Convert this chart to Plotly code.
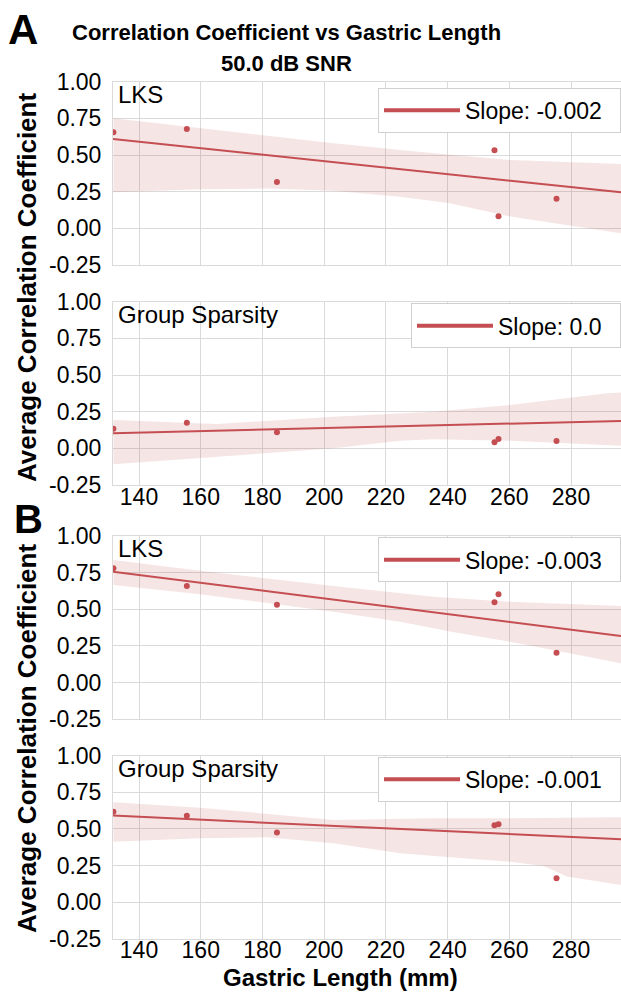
import plotly.graph_objects as go

W, H = 621, 993

# ---------------- data ----------------
gastric_length = [131.7, 155.5, 184.7, 255.2, 256.5, 275.3]
x_range = [131.57, 296.2]
x_ticks = [140, 160, 180, 200, 220, 240, 260, 280]
y_ticks = [-0.25, 0.0, 0.25, 0.5, 0.75, 1.0]
y_tick_text = ["-0.25", "0.00", "0.25", "0.50", "0.75", "1.00"]

panel_names = ["LKS", "Group Sparsity", "LKS", "Group Sparsity"]
slope_labels = ["Slope: -0.002", "Slope: 0.0", "Slope: -0.003", "Slope: -0.001"]

corr_A_lks = [0.655, 0.677, 0.316, 0.532, 0.082, 0.202]
corr_A_gs = [0.134, 0.175, 0.109, 0.041, 0.064, 0.050]
corr_B_lks = [0.780, 0.659, 0.532, 0.548, 0.602, 0.204]
corr_B_gs = [0.617, 0.589, 0.475, 0.525, 0.531, 0.163]

fit_A_lks = [0.609, 0.246]
fit_A_gs = [0.103, 0.187]
fit_B_lks = [0.757, 0.318]
fit_B_gs = [0.590, 0.429]

ci_up_x_A_lks = [131.7, 159.8, 203.0, 235.4, 260.3, 296.2]
ci_up_A_lks = [0.750, 0.682, 0.580, 0.512, 0.466, 0.439]
ci_lo_x_A_lks = [131.7, 159.8, 181.4, 203.0, 224.6, 240.8, 260.3, 296.2]
ci_lo_A_lks = [0.246, 0.266, 0.271, 0.257, 0.216, 0.171, 0.080, -0.034]

ci_up_x_A_gs = [131.7, 165.2, 203.0, 235.4, 260.3, 285.2, 291.7, 296.2]
ci_up_A_gs = [0.193, 0.166, 0.216, 0.250, 0.296, 0.357, 0.375, 0.380]
ci_lo_x_A_gs = [131.7, 159.8, 203.0, 224.6, 235.4, 260.3, 278.7, 296.2]
ci_lo_A_gs = [-0.109, -0.068, 0.0, 0.052, 0.062, 0.052, 0.034, 0.018]

ci_up_x_B_lks = [131.7, 159.8, 203.0, 235.4, 260.3, 296.2]
ci_up_B_lks = [0.836, 0.763, 0.659, 0.586, 0.552, 0.523]
ci_lo_x_B_lks = [131.7, 159.8, 203.0, 224.6, 240.8, 260.3, 296.2]
ci_lo_B_lks = [0.666, 0.602, 0.484, 0.416, 0.348, 0.279, 0.132]

ci_up_x_B_gs = [131.7, 159.8, 203.0, 235.4, 260.3, 296.2]
ci_up_B_gs = [0.681, 0.644, 0.560, 0.572, 0.572, 0.579]
ci_lo_x_B_gs = [131.7, 159.8, 181.4, 203.0, 224.6, 240.8, 260.3, 271.1, 278.7, 296.2]
ci_lo_B_gs = [0.412, 0.435, 0.442, 0.401, 0.333, 0.306, 0.276, 0.247, 0.174, 0.117]

# ---------------- style ----------------
RED = "#C44E52"
BAND = "rgba(196,78,82,0.15)"
GRID = "#dadada"
FONT = "Liberation Sans, Arial, sans-serif"


def px_x(p):
    return p / W


def px_y(p):
    return 1 - p / H


panels = [
    dict(vals=corr_A_lks, fit=fit_A_lks, ux=ci_up_x_A_lks, uy=ci_up_A_lks,
         lx=ci_lo_x_A_lks, ly=ci_lo_A_lks, top=81.7, leg_top=87.7),
    dict(vals=corr_A_gs, fit=fit_A_gs, ux=ci_up_x_A_gs, uy=ci_up_A_gs,
         lx=ci_lo_x_A_gs, ly=ci_lo_A_gs, top=301.7, leg_top=303.3),
    dict(vals=corr_B_lks, fit=fit_B_lks, ux=ci_up_x_B_lks, uy=ci_up_B_lks,
         lx=ci_lo_x_B_lks, ly=ci_lo_B_lks, top=536.0, leg_top=537.3),
    dict(vals=corr_B_gs, fit=fit_B_gs, ux=ci_up_x_B_gs, uy=ci_up_B_gs,
         lx=ci_lo_x_B_gs, ly=ci_lo_B_gs, top=755.5, leg_top=756.7),
]
PLOT_H = 183.3
PLOT_LEFT = 113

fig = go.Figure()
annotations = []
layout = {}

for i, p in enumerate(panels):
    n = "" if i == 0 else str(i + 1)
    xa, ya = "x" + n, "y" + n
    leg = "legend" + n
    fig.add_trace(go.Scatter(
        x=p["ux"] + p["lx"][::-1], y=p["uy"] + p["ly"][::-1],
        fill="toself", fillcolor=BAND, line=dict(width=0), mode="lines",
        hoverinfo="skip", showlegend=False, xaxis=xa, yaxis=ya))
    fig.add_trace(go.Scatter(
        x=x_range, y=p["fit"], mode="lines", line=dict(color=RED, width=2),
        showlegend=False, xaxis=xa, yaxis=ya))
    fig.add_trace(go.Scatter(
        x=gastric_length, y=p["vals"], mode="markers",
        marker=dict(color=RED, size=6), showlegend=False, xaxis=xa, yaxis=ya))
    fig.add_trace(go.Scatter(
        x=[None], y=[None], mode="lines", line=dict(color=RED, width=4),
        name=slope_labels[i] + "&nbsp;&nbsp;", showlegend=True, legend=leg,
        xaxis=xa, yaxis=ya))

    layout["xaxis" + n] = dict(
        domain=[px_x(PLOT_LEFT), 1], range=x_range, anchor=ya,
        tickvals=x_ticks, showgrid=True, gridcolor=GRID, gridwidth=1,
        showline=True, mirror=True, linecolor=GRID, linewidth=1,
        zeroline=False, ticks="", showticklabels=(i in (1, 3)),
        tickfont=dict(family=FONT, size=23, color="black"),
        ticklabelstandoff=-9, automargin=False)
    layout["yaxis" + n] = dict(
        domain=[px_y(p["top"] + PLOT_H), px_y(p["top"])], range=[-0.25, 1.0],
        anchor=xa, tickvals=y_ticks, ticktext=y_tick_text,
        showgrid=True, gridcolor=GRID, gridwidth=1,
        showline=True, mirror=True, linecolor=GRID, linewidth=1,
        zeroline=False, ticks="",
        tickfont=dict(family=FONT, size=23, color="black"),
        ticklabelstandoff=6, automargin=False)
    layout[leg] = dict(
        x=1, xanchor="right", y=px_y(p["leg_top"]), yanchor="top",
        bgcolor="white", bordercolor="#d0d0d0", borderwidth=1,
        font=dict(family=FONT, size=23, color="black"), itemwidth=76)
    annotations.append(dict(
        text=panel_names[i], x=px_x(116), y=px_y(p["top"] + 12.5),
        xref="paper", yref="paper", xanchor="left", yanchor="middle",
        showarrow=False, font=dict(family=FONT, size=24, color="black")))

# titles and labels
bold = dict(family=FONT, color="black", weight="bold")
annotations += [
    dict(text="Correlation Coefficient vs Gastric Length", x=px_x(286), y=px_y(32),
         font=dict(bold, size=22)),
    dict(text="50.0 dB SNR", x=px_x(286), y=px_y(63), font=dict(bold, size=22)),
    dict(text="A", x=px_x(23), y=px_y(30), font=dict(bold, size=42)),
    dict(text="B", x=px_x(28), y=px_y(519), font=dict(bold, size=40)),
    dict(text="Average Correlation Coefficient", x=px_x(27), y=px_y(288),
         textangle=-90, font=dict(bold, size=26)),
    dict(text="Average Correlation Coefficient", x=px_x(27), y=px_y(739),
         textangle=-90, font=dict(bold, size=26)),
    dict(text="Gastric Length (mm)", x=px_x(340), y=px_y(977),
         font=dict(bold, size=24)),
]
for a in annotations[-7:]:
    a.update(xref="paper", yref="paper", xanchor="center", yanchor="middle",
             showarrow=False)

fig.update_layout(
    template="none",
    width=W, height=H, margin=dict(l=0, r=0, t=0, b=0, pad=0, autoexpand=False),
    paper_bgcolor="white", plot_bgcolor="white",
    font=dict(family=FONT, color="black"),
    annotations=annotations, **layout)

fig.write_html("out.html")
